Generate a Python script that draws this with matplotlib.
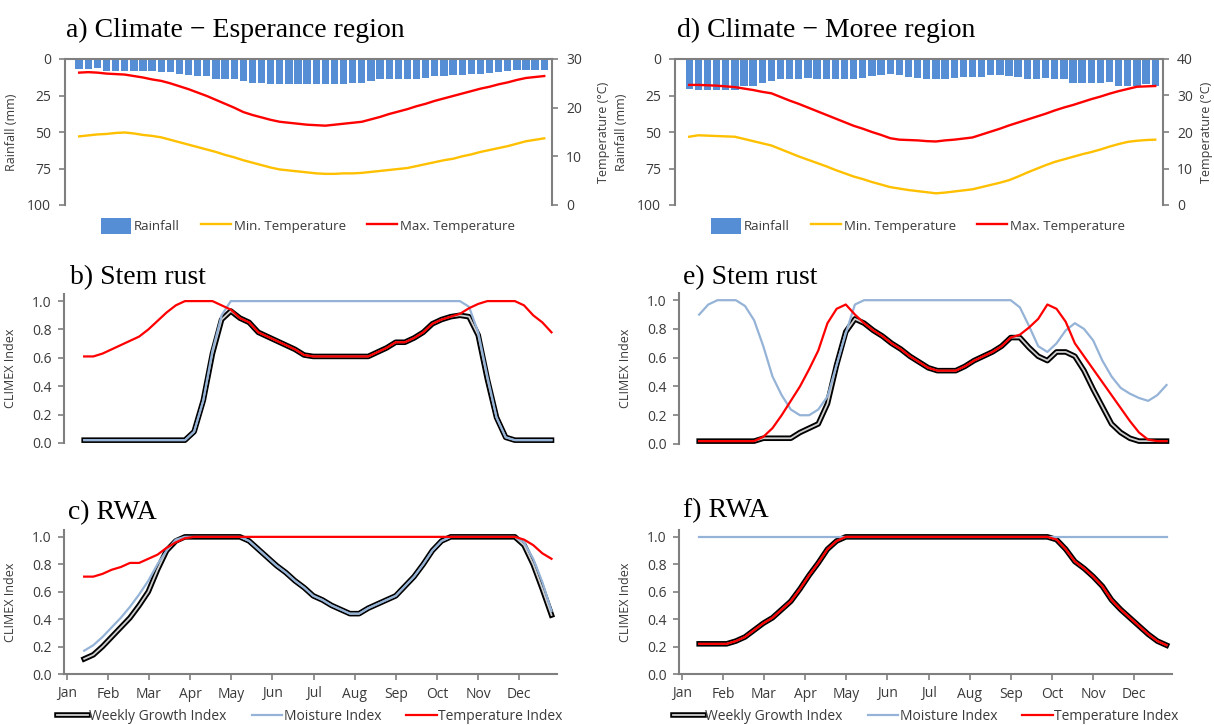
#import libraries
import numpy as np
import matplotlib
matplotlib.use('Agg')
import matplotlib.pyplot as plt
from matplotlib.patches import Patch
from matplotlib.lines import Line2D
from matplotlib.legend_handler import HandlerTuple

#weekly data (weeks 1..52)
weeks = np.arange(1, 53)
months = ['Jan', 'Feb', 'Mar', 'Apr', 'May', 'Jun', 'Jul', 'Aug', 'Sep', 'Oct', 'Nov', 'Dec']

#climate - Esperance
esp_rain = [6.8, 6.8, 6.1, 8.4, 8.4, 8.4, 8.4, 8.4, 8.4, 9.0,
            9.0, 10.6, 11.3, 11.8, 11.8, 13.6, 13.6, 14.0, 15.2, 16.3,
            16.3, 17.4, 17.4, 17.4, 17.4, 17.4, 17.4, 17.4, 17.4, 17.4,
            16.7, 16.3, 15.2, 14.0, 14.0, 14.0, 14.0, 13.6, 12.9, 11.8,
            11.8, 11.3, 11.3, 10.6, 10.6, 9.5, 9.0, 8.4, 7.7, 7.7,
            7.7, 7.7]
esp_tmin = [14.1, 14.3, 14.5, 14.6, 14.8, 14.9, 14.7, 14.4, 14.2, 13.9,
            13.4, 12.9, 12.4, 11.9, 11.4, 10.9, 10.3, 9.8, 9.2, 8.7,
            8.2, 7.7, 7.3, 7.1, 6.9, 6.7, 6.5, 6.4, 6.4, 6.5,
            6.5, 6.6, 6.8, 7.0, 7.2, 7.4, 7.6, 8.0, 8.4, 8.8,
            9.2, 9.5, 10.0, 10.4, 10.9, 11.3, 11.7, 12.1, 12.6, 13.1,
            13.4, 13.7]
esp_tmax = [27.2, 27.3, 27.2, 27.0, 26.9, 26.8, 26.5, 26.2, 25.8, 25.5,
            25.0, 24.4, 23.8, 23.1, 22.4, 21.6, 20.8, 20.0, 19.1, 18.5,
            18.0, 17.5, 17.1, 16.9, 16.7, 16.5, 16.4, 16.3, 16.5, 16.7,
            16.9, 17.1, 17.6, 18.1, 18.7, 19.2, 19.7, 20.3, 20.8, 21.4,
            21.9, 22.4, 22.9, 23.4, 23.9, 24.3, 24.8, 25.2, 25.7, 26.1,
            26.3, 26.5]

#climate - Moree
mor_rain = [20.4, 21.3, 21.3, 21.3, 21.3, 21.3, 18.6, 18.6, 16.3, 15.2,
            14.0, 14.0, 13.6, 12.9, 13.6, 13.6, 13.6, 14.0, 14.0, 12.9,
            11.8, 11.3, 10.6, 11.3, 12.2, 12.9, 13.6, 14.0, 13.6, 12.9,
            12.2, 12.2, 12.2, 11.3, 11.3, 11.8, 12.2, 13.6, 13.6, 12.9,
            14.0, 14.0, 16.3, 16.3, 16.3, 16.3, 15.8, 18.6, 18.6, 18.6,
            17.4, 18.6]
mor_tmin = [18.7, 19.1, 19.0, 18.9, 18.8, 18.7, 18.1, 17.5, 16.9, 16.3,
            15.3, 14.3, 13.3, 12.4, 11.5, 10.6, 9.6, 8.7, 7.8, 7.1,
            6.3, 5.6, 4.9, 4.5, 4.1, 3.8, 3.5, 3.2, 3.4, 3.7,
            4.0, 4.3, 4.9, 5.5, 6.1, 6.8, 7.8, 8.9, 9.9, 10.9,
            11.8, 12.5, 13.2, 13.9, 14.5, 15.2, 16.0, 16.7, 17.3, 17.6,
            17.8, 17.9]
mor_tmax = [32.9, 32.9, 32.8, 32.7, 32.5, 32.3, 31.9, 31.5, 31.0, 30.6,
            29.6, 28.6, 27.7, 26.7, 25.7, 24.7, 23.7, 22.7, 21.7, 20.9,
            20.0, 19.2, 18.3, 17.9, 17.8, 17.7, 17.5, 17.4, 17.7, 17.9,
            18.2, 18.5, 19.3, 20.1, 20.9, 21.8, 22.6, 23.4, 24.2, 25.0,
            25.9, 26.7, 27.4, 28.2, 29.0, 29.7, 30.5, 31.2, 31.8, 32.4,
            32.5, 32.6]

#b) stem rust - Esperance
b_gi = [0.02, 0.02, 0.02, 0.02, 0.02, 0.02, 0.02, 0.02, 0.02, 0.02,
        0.02, 0.02, 0.08, 0.30, 0.63, 0.87, 0.93, 0.88, 0.85, 0.78,
        0.75, 0.72, 0.69, 0.66, 0.62, 0.61, 0.61, 0.61, 0.61, 0.61,
        0.61, 0.61, 0.64, 0.67, 0.71, 0.71, 0.74, 0.78, 0.84, 0.87,
        0.89, 0.90, 0.89, 0.76, 0.45, 0.18, 0.04, 0.02, 0.02, 0.02,
        0.02, 0.02]
b_mi = [0.02, 0.02, 0.02, 0.02, 0.02, 0.02, 0.02, 0.02, 0.02, 0.02,
        0.02, 0.02, 0.08, 0.30, 0.65, 0.90, 1.00, 1.00, 1.00, 1.00,
        1.00, 1.00, 1.00, 1.00, 1.00, 1.00, 1.00, 1.00, 1.00, 1.00,
        1.00, 1.00, 1.00, 1.00, 1.00, 1.00, 1.00, 1.00, 1.00, 1.00,
        1.00, 1.00, 0.96, 0.78, 0.47, 0.18, 0.04, 0.02, 0.02, 0.02,
        0.02, 0.02]
b_ti = [0.61, 0.61, 0.63, 0.66, 0.69, 0.72, 0.75, 0.80, 0.86, 0.92,
        0.97, 1.00, 1.00, 1.00, 1.00, 0.97, 0.94, 0.88, 0.85, 0.78,
        0.75, 0.72, 0.69, 0.66, 0.62, 0.61, 0.61, 0.61, 0.61, 0.61,
        0.61, 0.61, 0.64, 0.67, 0.71, 0.71, 0.74, 0.78, 0.84, 0.87,
        0.89, 0.91, 0.95, 0.98, 1.00, 1.00, 1.00, 1.00, 0.97, 0.90,
        0.85, 0.78]

#c) RWA - Esperance
c_gi = [0.11, 0.14, 0.20, 0.27, 0.34, 0.41, 0.50, 0.60, 0.76, 0.90,
        0.97, 1.00, 1.00, 1.00, 1.00, 1.00, 1.00, 1.00, 0.97, 0.91,
        0.85, 0.79, 0.74, 0.68, 0.63, 0.57, 0.54, 0.50, 0.47, 0.44,
        0.44, 0.48, 0.51, 0.54, 0.57, 0.64, 0.71, 0.80, 0.90, 0.97,
        1.00, 1.00, 1.00, 1.00, 1.00, 1.00, 1.00, 1.00, 0.94, 0.80,
        0.62, 0.43]
c_mi = [0.17, 0.21, 0.27, 0.34, 0.41, 0.49, 0.58, 0.68, 0.80, 0.90,
        0.98, 1.00, 1.00, 1.00, 1.00, 1.00, 1.00, 1.00, 0.97, 0.91,
        0.85, 0.79, 0.74, 0.68, 0.63, 0.57, 0.54, 0.50, 0.47, 0.44,
        0.44, 0.48, 0.51, 0.54, 0.57, 0.64, 0.71, 0.80, 0.90, 0.97,
        1.00, 1.00, 1.00, 1.00, 1.00, 1.00, 1.00, 1.00, 0.96, 0.84,
        0.67, 0.46]
c_ti = [0.71, 0.71, 0.73, 0.76, 0.78, 0.81, 0.81, 0.84, 0.87, 0.92,
        0.96, 0.99, 1.00, 1.00, 1.00, 1.00, 1.00, 1.00, 1.00, 1.00,
        1.00, 1.00, 1.00, 1.00, 1.00, 1.00, 1.00, 1.00, 1.00, 1.00,
        1.00, 1.00, 1.00, 1.00, 1.00, 1.00, 1.00, 1.00, 1.00, 1.00,
        1.00, 1.00, 1.00, 1.00, 1.00, 1.00, 1.00, 1.00, 0.98, 0.94,
        0.88, 0.84]

#e) stem rust - Moree
e_gi = [0.02, 0.02, 0.02, 0.02, 0.02, 0.02, 0.02, 0.04, 0.04, 0.04,
        0.04, 0.08, 0.11, 0.14, 0.28, 0.55, 0.78, 0.87, 0.84, 0.79,
        0.75, 0.70, 0.66, 0.61, 0.57, 0.53, 0.51, 0.51, 0.51, 0.54,
        0.58, 0.61, 0.64, 0.68, 0.74, 0.74, 0.67, 0.61, 0.58, 0.64,
        0.64, 0.61, 0.51, 0.38, 0.26, 0.14, 0.08, 0.04, 0.02, 0.02,
        0.02, 0.02]
e_mi = [0.90, 0.97, 1.00, 1.00, 1.00, 0.96, 0.86, 0.68, 0.47, 0.34,
        0.24, 0.20, 0.20, 0.24, 0.33, 0.55, 0.77, 0.97, 1.00, 1.00,
        1.00, 1.00, 1.00, 1.00, 1.00, 1.00, 1.00, 1.00, 1.00, 1.00,
        1.00, 1.00, 1.00, 1.00, 1.00, 0.95, 0.82, 0.68, 0.64, 0.70,
        0.79, 0.84, 0.80, 0.72, 0.58, 0.47, 0.39, 0.35, 0.32, 0.30,
        0.34, 0.41]
e_ti = [0.02, 0.02, 0.02, 0.02, 0.02, 0.02, 0.02, 0.05, 0.11, 0.20,
        0.30, 0.40, 0.52, 0.65, 0.84, 0.94, 0.97, 0.90, 0.84, 0.79,
        0.75, 0.70, 0.66, 0.61, 0.57, 0.53, 0.51, 0.51, 0.51, 0.54,
        0.58, 0.61, 0.64, 0.68, 0.74, 0.76, 0.81, 0.87, 0.97, 0.94,
        0.85, 0.70, 0.61, 0.52, 0.43, 0.34, 0.25, 0.16, 0.08, 0.03,
        0.02, 0.02]

#f) RWA - Moree
f_gi = [0.22, 0.22, 0.22, 0.22, 0.24, 0.27, 0.32, 0.37, 0.41, 0.47,
        0.53, 0.62, 0.72, 0.81, 0.91, 0.97, 1.00, 1.00, 1.00, 1.00,
        1.00, 1.00, 1.00, 1.00, 1.00, 1.00, 1.00, 1.00, 1.00, 1.00,
        1.00, 1.00, 1.00, 1.00, 1.00, 1.00, 1.00, 1.00, 1.00, 0.98,
        0.91, 0.82, 0.77, 0.71, 0.64, 0.54, 0.47, 0.41, 0.35, 0.29,
        0.24, 0.21]
f_mi = [1.00, 1.00, 1.00, 1.00, 1.00, 1.00, 1.00, 1.00, 1.00, 1.00,
        1.00, 1.00, 1.00, 1.00, 1.00, 1.00, 1.00, 1.00, 1.00, 1.00,
        1.00, 1.00, 1.00, 1.00, 1.00, 1.00, 1.00, 1.00, 1.00, 1.00,
        1.00, 1.00, 1.00, 1.00, 1.00, 1.00, 1.00, 1.00, 1.00, 1.00,
        1.00, 1.00, 1.00, 1.00, 1.00, 1.00, 1.00, 1.00, 1.00, 1.00,
        1.00, 1.00]
f_ti = [0.22, 0.22, 0.22, 0.22, 0.24, 0.27, 0.32, 0.37, 0.41, 0.47,
        0.53, 0.62, 0.72, 0.81, 0.91, 0.97, 1.00, 1.00, 1.00, 1.00,
        1.00, 1.00, 1.00, 1.00, 1.00, 1.00, 1.00, 1.00, 1.00, 1.00,
        1.00, 1.00, 1.00, 1.00, 1.00, 1.00, 1.00, 1.00, 1.00, 0.98,
        0.91, 0.82, 0.77, 0.71, 0.64, 0.54, 0.47, 0.41, 0.35, 0.29,
        0.24, 0.21]

#colours
rain_col = '#558ED5'
tmin_col = '#FFC000'
tmax_col = '#FF0000'
mi_col = '#95B3D7'
ti_col = '#FF0000'
spine_col = '#7f7f7f'
txt_col = '#3a3a3a'

#PLOT
plt.rcParams['font.family'] = ['Open Sans', 'DejaVu Sans']
plt.rcParams['font.size'] = 9.5
plt.rcParams['text.color'] = txt_col
plt.rcParams['axes.labelcolor'] = txt_col
plt.rcParams['xtick.color'] = spine_col
plt.rcParams['ytick.color'] = spine_col
plt.rcParams['xtick.labelcolor'] = txt_col
plt.rcParams['ytick.labelcolor'] = txt_col

W, H = 1214, 725
fig = plt.figure(figsize=(W/100, H/100), dpi=100)

def box(l, t, r, b):
    #pixel box (from top left) -> figure fraction
    return [l/W, 1-b/H, (r-l)/W, (b-t)/H]

def title(x, y, s):
    fig.text(x/W, 1-y/H, s, fontfamily='Liberation Serif', fontsize=20,
             color='black', va='baseline', ha='left')

def style_spines(ax, show):
    for k in ['left', 'right', 'top', 'bottom']:
        ax.spines[k].set_visible(k in show)
        ax.spines[k].set_color(spine_col)
        ax.spines[k].set_linewidth(1.5)

def climate_panel(b, rain, tmin, tmax, tlim, tticks, cx, tlab_x):
    ax = fig.add_axes(box(*b))
    ax.bar(weeks, rain, width=0.8, color=rain_col)
    ax.set_xlim(-0.55, 52.85)
    ax.set_ylim(100, 0)
    ax.set_yticks([0, 25, 50, 75, 100])
    ax.set_xticks([])
    style_spines(ax, ['left', 'top'])
    ax.tick_params(axis='y', length=4, width=1.2, pad=6, labelsize=10)
    ax.set_ylabel('Rainfall (mm)', fontsize=9)
    ax.yaxis.set_label_coords(-0.097, 0.5)
    ax2 = ax.twinx()
    ax2.plot(weeks, tmin, color=tmin_col, lw=1.7)
    ax2.plot(weeks, tmax, color=tmax_col, lw=1.7)
    ax2.set_ylim(0, tlim)
    ax2.set_yticks(tticks)
    style_spines(ax2, ['right'])
    ax2.tick_params(axis='y', length=4, width=1.2, pad=6, labelsize=10)
    ax2.set_ylabel('Temperature (°C)', fontsize=9)
    ax2.yaxis.set_label_coords(tlab_x, 0.5)
    handles = [Patch(facecolor=rain_col),
               Line2D([], [], color=tmin_col, lw=1.7),
               Line2D([], [], color=tmax_col, lw=1.7)]
    fig.legend(handles, ['Rainfall', 'Min. Temperature', 'Max. Temperature'],
               loc='center', bbox_to_anchor=(cx/W, 1-226/H), ncol=3,
               frameon=False, fontsize=9.5, handlelength=2.3, handleheight=1.6,
               handletextpad=0.2, columnspacing=1.6)

def index_panel(b, gi, mi, ti, show_x, cx):
    ax = fig.add_axes(box(*b))
    ax.plot(weeks, gi, color='black', lw=4.0)
    ax.plot(weeks, gi, color='#d0d0d0', lw=1.3)
    ax.plot(weeks, mi, color=mi_col, lw=1.6)
    ax.plot(weeks, ti, color=ti_col, lw=1.6)
    ax.set_xlim(-1.2, 52.6)
    ax.set_ylim(0, 1.05)
    ax.set_yticks([0, 0.2, 0.4, 0.6, 0.8, 1.0])
    ax.set_yticklabels(['0.0', '0.2', '0.4', '0.6', '0.8', '1.0'])
    ax.tick_params(axis='y', length=4, width=1.2, pad=5, labelsize=10)
    ax.set_ylabel('CLIMEX Index', fontsize=9)
    ax.yaxis.set_label_coords(-0.095, 0.5)
    if show_x:
        style_spines(ax, ['left', 'bottom'])
        ax.set_xticks(-0.9 + 4.49*np.arange(12))
        ax.set_xticklabels(months)
        ax.tick_params(axis='x', length=4, width=1.2, pad=5, labelsize=10)
        gi_h = (Line2D([], [], color='black', lw=4.0), Line2D([], [], color='#d0d0d0', lw=1.3))
        handles = [gi_h, Line2D([], [], color=mi_col, lw=1.6), Line2D([], [], color=ti_col, lw=1.6)]
        fig.legend(handles, ['Weekly Growth Index', 'Moisture Index', 'Temperature Index'],
                   handler_map={tuple: HandlerTuple(ndivide=1)},
                   loc='center', bbox_to_anchor=(cx/W, 1-716/H), ncol=3,
                   frameon=False, fontsize=10, handlelength=2.2,
                   handletextpad=0.1, columnspacing=1.8)
    else:
        style_spines(ax, ['left'])
        ax.set_xticks([])

#left column - Esperance
climate_panel((65, 59, 552, 205), esp_rain, esp_tmin, esp_tmax, 30, [0, 10, 20, 30], 308, 1.092)
index_panel((64, 294, 557, 443), b_gi, b_mi, b_ti, False, 310)
index_panel((64, 530, 557, 674), c_gi, c_mi, c_ti, True, 310)

#right column - Moree
climate_panel((675, 59, 1163, 205), mor_rain, mor_tmin, mor_tmax, 40, [0, 10, 20, 30, 40], 918, 1.076)
index_panel((679, 293, 1172, 444), e_gi, e_mi, e_ti, False, 926)
index_panel((679, 530, 1172, 674), f_gi, f_mi, f_ti, True, 926)

#panel titles
title(66, 37, 'a) Climate \u2212 Esperance region')
title(70, 284, 'b) Stem rust')
title(68, 519, 'c) RWA')
title(677, 37, 'd) Climate \u2212 Moree region')
title(683, 284, 'e) Stem rust')
title(683, 517, 'f) RWA')

plt.savefig('out.png', dpi=100)
